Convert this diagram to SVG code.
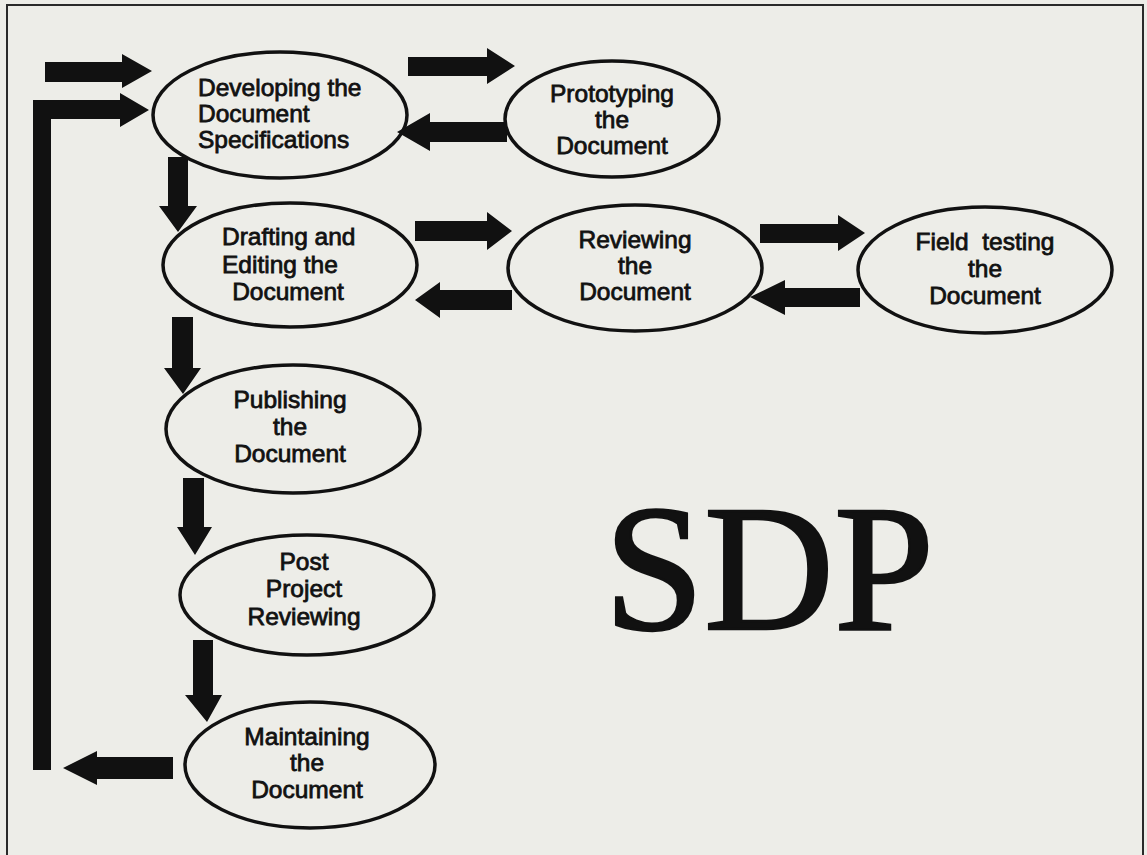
<svg xmlns="http://www.w3.org/2000/svg" width="1147" height="855" viewBox="0 0 1147 855">
<style>
.bg{fill:#edede8}
.frame{fill:none;stroke:#2a2a2a;stroke-width:2}
.node ellipse{fill:none;stroke:#111;stroke-width:3.5}
.node text{font-family:"Liberation Sans",Arial,sans-serif;font-size:24.5px;fill:#111;stroke:#111;stroke-width:0.8}
.c{text-anchor:middle}
.arr{fill:#111;stroke:none}
.title{font-family:"Liberation Serif","Times New Roman",serif;font-size:180px;fill:#111;stroke:#111;stroke-width:2.5}
</style>
<rect class="bg" x="0" y="0" width="1147" height="855"/>
<path class="frame" d="M7,856 V5 H1143 V856"/>

<g id="connectors" class="arr">
  <!-- entry arrow -->
  <polygon points="45,62 122,62 122,54 152,71 122,88 122,82 45,82"/>
  <!-- feedback loop -->
  <polygon points="33,770 33,100 120,100 120,93 149,110 120,127 120,119 51,119 51,770"/>
  <!-- Developing -> Prototyping -->
  <polygon points="408,57 487,57 487,48 515,66 487,84 487,76 408,76"/>
  <!-- Prototyping -> Developing -->
  <polygon points="507,122 430,122 430,113 397,132 430,151 430,142 507,142"/>
  <!-- Developing -> Drafting -->
  <polygon points="168,157 188,157 188,206 197,206 178,232 159,206 168,206"/>
  <!-- Drafting -> Publishing -->
  <polygon points="172,317 193,317 193,368 201,368 183,394 164,368 172,368"/>
  <!-- Publishing -> Post -->
  <polygon points="183,478 204,478 204,527 212,527 195,555 177,527 183,527"/>
  <!-- Post -> Maintaining -->
  <polygon points="193,640 213,640 213,695 222,695 207,722 185,695 193,695"/>
  <!-- Drafting -> Reviewing -->
  <polygon points="415,221 487,221 487,212 512,231 487,250 487,241 415,241"/>
  <!-- Reviewing -> Drafting -->
  <polygon points="512,290 440,290 440,282 415,300 440,318 440,310 512,310"/>
  <!-- Reviewing -> Field testing -->
  <polygon points="760,224 838,224 838,215 865,233 838,251 838,243 760,243"/>
  <!-- Field testing -> Reviewing -->
  <polygon points="860,288 785,288 785,280 750,297 785,315 785,307 860,307"/>
  <!-- Maintaining -> loop -->
  <polygon points="173,757 97,757 97,751 63,768 97,785 97,779 173,779"/>
</g>

<g id="developing" class="node">
  <ellipse cx="280" cy="115" rx="127" ry="63"/>
  <text x="198" y="96">Developing the</text>
  <text x="198" y="122">Document</text>
  <text x="198" y="148">Specifications</text>
</g>
<g id="prototyping" class="node">
  <ellipse cx="612" cy="119" rx="107" ry="58"/>
  <text class="c" x="612" y="102">Prototyping</text>
  <text class="c" x="612" y="128">the</text>
  <text class="c" x="612" y="154">Document</text>
</g>
<g id="drafting" class="node">
  <ellipse cx="290" cy="265" rx="127" ry="62"/>
  <text x="222" y="245">Drafting and</text>
  <text x="222" y="273">Editing the</text>
  <text class="c" x="288" y="300">Document</text>
</g>
<g id="reviewing" class="node">
  <ellipse cx="635" cy="268" rx="127" ry="63"/>
  <text class="c" x="635" y="248">Reviewing</text>
  <text class="c" x="635" y="274">the</text>
  <text class="c" x="635" y="300">Document</text>
</g>
<g id="field-testing" class="node">
  <ellipse cx="985" cy="270" rx="127" ry="63"/>
  <text class="c" x="985" y="250" xml:space="preserve">Field  testing</text>
  <text class="c" x="985" y="277">the</text>
  <text class="c" x="985" y="304">Document</text>
</g>
<g id="publishing" class="node">
  <ellipse cx="293" cy="429" rx="127" ry="64"/>
  <text class="c" x="290" y="408">Publishing</text>
  <text class="c" x="290" y="435">the</text>
  <text class="c" x="290" y="462">Document</text>
</g>
<g id="post-project" class="node">
  <ellipse cx="307" cy="595" rx="127" ry="60"/>
  <text class="c" x="304" y="570">Post</text>
  <text class="c" x="304" y="597">Project</text>
  <text class="c" x="304" y="625">Reviewing</text>
</g>
<g id="maintaining" class="node">
  <ellipse cx="310" cy="765" rx="125" ry="63"/>
  <text class="c" x="307" y="745">Maintaining</text>
  <text class="c" x="307" y="771">the</text>
  <text class="c" x="307" y="798">Document</text>
</g>

<text class="title" x="604" y="629">SDP</text>
</svg>
